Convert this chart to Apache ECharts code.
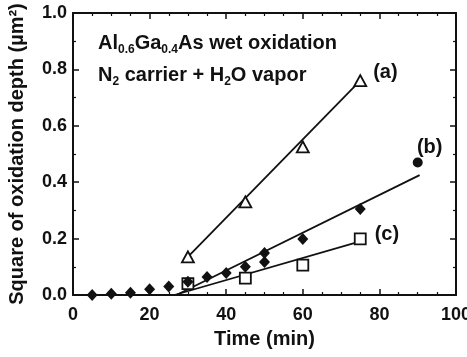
<!DOCTYPE html>
<html>
<head>
<meta charset="utf-8">
<script src="https://cdn.jsdelivr.net/npm/echarts@6/dist/echarts.min.js"></script>
<style>html,body{margin:0;padding:0;background:#fff}#c{width:467px;height:357px}</style>
</head>
<body>
<div id="c"></div>
<script>
// ---- data ----
const xTicks = [0, 20, 40, 60, 80, 100];
const yTicks = [0.0, 0.2, 0.4, 0.6, 0.8, 1.0];
// (a) open triangles
const seriesA = [[30, 0.135], [45, 0.33], [60, 0.525], [75, 0.76]];
// (b) filled diamonds and filled circle
const seriesB = [[5, 0.0], [10, 0.004], [15, 0.008], [20, 0.02], [25, 0.03], [30, 0.047], [35, 0.064],
                 [40, 0.078], [45, 0.1], [50, 0.117], [50, 0.149], [60, 0.199], [75, 0.305]];
const seriesBCircle = [[90, 0.47]];
// (c) open squares
const seriesC = [[30, 0.04], [45, 0.06], [60, 0.106], [75, 0.199]];
// fitted lines
const fitA = [[30, 0.135], [75, 0.76]];
const fitB = [[27, 0.0], [90.5, 0.425]];
const fitC = [[26.5, 0.0], [75, 0.19]];
const labelA = '(a)', labelB = '(b)', labelC = '(c)';

const FONT = 'Liberation Sans';
const INK = '#111';
const chart = echarts.init(document.getElementById('c'), null, {renderer: 'canvas'});

function lastLabeled(arr, text, pos, dist, off) {
  return arr.map((p, i) => i === arr.length - 1
    ? {value: p, label: {show: true, formatter: text, position: pos, distance: dist, offset: off,
        color: INK, fontSize: 20, fontWeight: 'bold', fontFamily: FONT}}
    : p);
}

function axisBase(extra) {
  return Object.assign({
    min: 0,
    axisLine: {show: true, onZero: false, lineStyle: {color: INK, width: 2}},
    axisTick: {show: true, inside: true, length: 6, lineStyle: {color: INK, width: 1.5}},
    splitLine: {show: false}
  }, extra);
}

chart.setOption({
  animation: false,
  backgroundColor: '#fff',
  title: {
    left: 93, top: 22,
    text: '{m|Al}{s|0.6}{m|Ga}{s|0.4}{m|As wet oxidation}\n{m|N}{s|2}{m| carrier + H}{s|2}{m|O vapor}',
    textStyle: {
      rich: {
        m: {fontSize: 20, fontWeight: 'bold', fontFamily: FONT, color: INK, lineHeight: 32},
        s: {fontSize: 12, fontWeight: 'bold', fontFamily: FONT, color: INK, padding: [13, 0, 0, 0], lineHeight: 32}
      }
    }
  },
  grid: {left: 73, right: 11, top: 13, bottom: 62, outerBoundsMode: 'none', containLabel: false},
  xAxis: [
    axisBase({
      type: 'value', position: 'bottom', max: 100, interval: 20,
      minorTick: {show: true, splitNumber: 4, length: 3, lineStyle: {color: INK, width: 1.2}},
      axisLabel: {color: INK, fontSize: 18, fontWeight: 'bold', fontFamily: FONT, margin: 11,
        formatter: v => xTicks.includes(v) ? String(v) : ''},
      name: 'Time (min)', nameLocation: 'middle', nameGap: 34,
      nameTextStyle: {color: INK, fontSize: 20, fontWeight: 'bold', fontFamily: FONT}
    }),
    axisBase({
      type: 'value', position: 'top', max: 100, interval: 20,
      minorTick: {show: true, splitNumber: 4, length: 3, lineStyle: {color: INK, width: 1.2}},
      axisLabel: {show: false}
    })
  ],
  yAxis: [
    axisBase({
      type: 'value', position: 'left', max: 1, interval: 0.2,
      minorTick: {show: true, splitNumber: 2, length: 3, lineStyle: {color: INK, width: 1.2}},
      axisLabel: {color: INK, fontSize: 18, fontWeight: 'bold', fontFamily: FONT, margin: 6,
        formatter: v => { const t = yTicks.find(y => Math.abs(y - v) < 1e-6); return t === undefined ? '' : t.toFixed(1); }},
      name: 'Square of oxidation depth (\u00b5m\u00b2)', nameLocation: 'middle', nameGap: 46,
      nameTextStyle: {color: INK, fontSize: 20, fontWeight: 'bold', fontFamily: FONT}
    }),
    axisBase({
      type: 'value', position: 'right', max: 1, interval: 0.2,
      minorTick: {show: true, splitNumber: 2, length: 3, lineStyle: {color: INK, width: 1.2}},
      axisLabel: {show: false}
    })
  ],
  series: [
    {type: 'line', data: fitA, symbol: 'none', lineStyle: {color: INK, width: 1.8}, z: 2, silent: true},
    {type: 'line', data: fitB, symbol: 'none', lineStyle: {color: INK, width: 1.8}, z: 2, silent: true},
    {type: 'line', data: fitC, symbol: 'none', lineStyle: {color: INK, width: 1.8}, z: 2, silent: true},
    {type: 'scatter', data: lastLabeled(seriesA, labelA, 'right', 6, [0, -8]), symbol: 'triangle', symbolSize: [12, 11],
      itemStyle: {color: '#fff', borderColor: INK, borderWidth: 1.8, opacity: 1}, z: 3},
    {type: 'scatter', data: seriesB, symbol: 'diamond', symbolSize: [11, 12],
      itemStyle: {color: INK, opacity: 1}, z: 4},
    {type: 'scatter', data: lastLabeled(seriesBCircle, labelB, 'top', 0, [12, 0]), symbol: 'circle', symbolSize: 10,
      itemStyle: {color: INK, opacity: 1}, z: 4},
    {type: 'scatter', data: lastLabeled(seriesC, labelC, 'right', 8, [0, -4]), symbol: 'rect', symbolSize: 11,
      itemStyle: {color: '#fff', borderColor: INK, borderWidth: 1.8, opacity: 1}, z: 3}
  ]
});
</script>
</body>
</html>
